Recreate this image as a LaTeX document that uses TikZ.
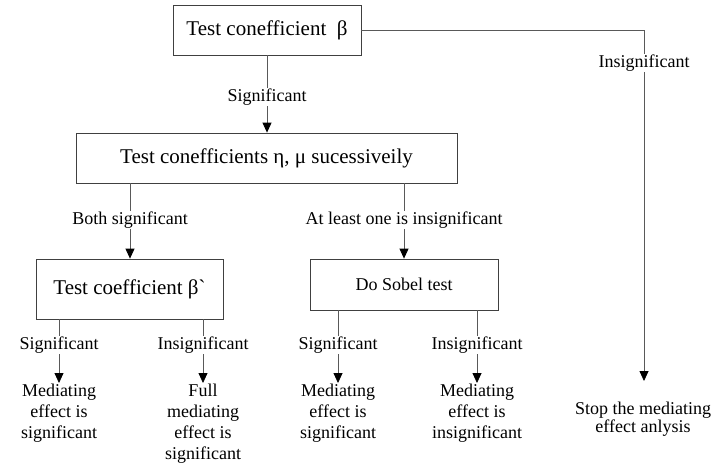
\documentclass[tikz,border=0pt]{standalone}
\usepackage{fontspec}
\setmainfont{Liberation Serif}[Ligatures=TeXOff]
\usetikzlibrary{arrows.meta}
\begin{document}
\begin{tikzpicture}[x=1pt,y=-1pt,
  box/.style={draw=black!75,line width=0.8pt,rectangle,inner sep=0pt,align=center},
  big/.style={font=\rmfamily\fontsize{21}{24}\selectfont},
  small/.style={font=\rmfamily\fontsize{18}{21}\selectfont},
  lab/.style={small,inner sep=1pt,fill=white},
  res/.style={small,align=center,inner sep=1pt,anchor=north},
  ln/.style={draw=black!65,line width=0.8pt},
  arr/.style={ln,-{Triangle[length=10pt,width=9pt,color=black]}}]
\useasboundingbox (0,0) rectangle (711,467);
% boxes
\node[box,big,minimum width=188pt,minimum height=50pt] (b1) at (267,30) {Test conefficient~~β};
\node[box,big,minimum width=381pt,minimum height=50pt] (b2) at (266.5,158) {Test conefficients η, μ sucessiveily};
\node[box,big,minimum width=187pt,minimum height=60pt] (b3) at (129.5,289) {Test coefficient β`};
\node[box,small,minimum width=188pt,minimum height=51pt] (b4) at (404,284.5) {Do Sobel test};
% labels
\node[lab] (l1) at (267,97) {Significant};
\node[lab] (l2) at (130,220) {Both significant};
\node[lab] (l3) at (404,220) {At least one is insignificant};
\node[lab] (l4) at (644,63) {Insignificant};
\node[lab] (l5) at (59,345) {Significant};
\node[lab] (l6) at (203,345) {Insignificant};
\node[lab] (l7) at (338,345) {Significant};
\node[lab] (l8) at (477,345) {Insignificant};
% results
\node[res] (r1) at (59,383) {Mediating\\effect is\\significant};
\node[res] (r2) at (203,383) {Full\\mediating\\effect is\\significant};
\node[res] (r3) at (338,383) {Mediating\\effect is\\significant};
\node[res] (r4) at (477,383) {Mediating\\effect is\\insignificant};
\node[small,align=center,font=\rmfamily\fontsize{18}{18}\selectfont] (r5) at (643,419) {Stop the mediating\\effect anlysis};
\coordinate (c5) at (644,381);
% connectors
\draw[ln] (b1.south -| l1.north) -- (l1.north);
\draw[arr] (l1.south) -- (b2.north -| l1.south);
\draw[ln] (b2.south -| l2.north) -- (l2.north);
\draw[arr] (l2.south) -- (b3.north -| l2.south);
\draw[ln] (b2.south -| l3.north) -- (l3.north);
\draw[arr] (l3.south) -- (b4.north -| l3.south);
\draw[ln] (b1.east) -| (l4.north);
\draw[arr] (l4.south) -- (c5);
\draw[ln] (b3.south -| l5.north) -- (l5.north);
\draw[arr] (l5.south) -- (r1.north);
\draw[ln] (b3.south -| l6.north) -- (l6.north);
\draw[arr] (l6.south) -- (r2.north);
\draw[ln] (b4.south -| l7.north) -- (l7.north);
\draw[arr] (l7.south) -- (r3.north);
\draw[ln] (b4.south -| l8.north) -- (l8.north);
\draw[arr] (l8.south) -- (r4.north);
\end{tikzpicture}
\end{document}
